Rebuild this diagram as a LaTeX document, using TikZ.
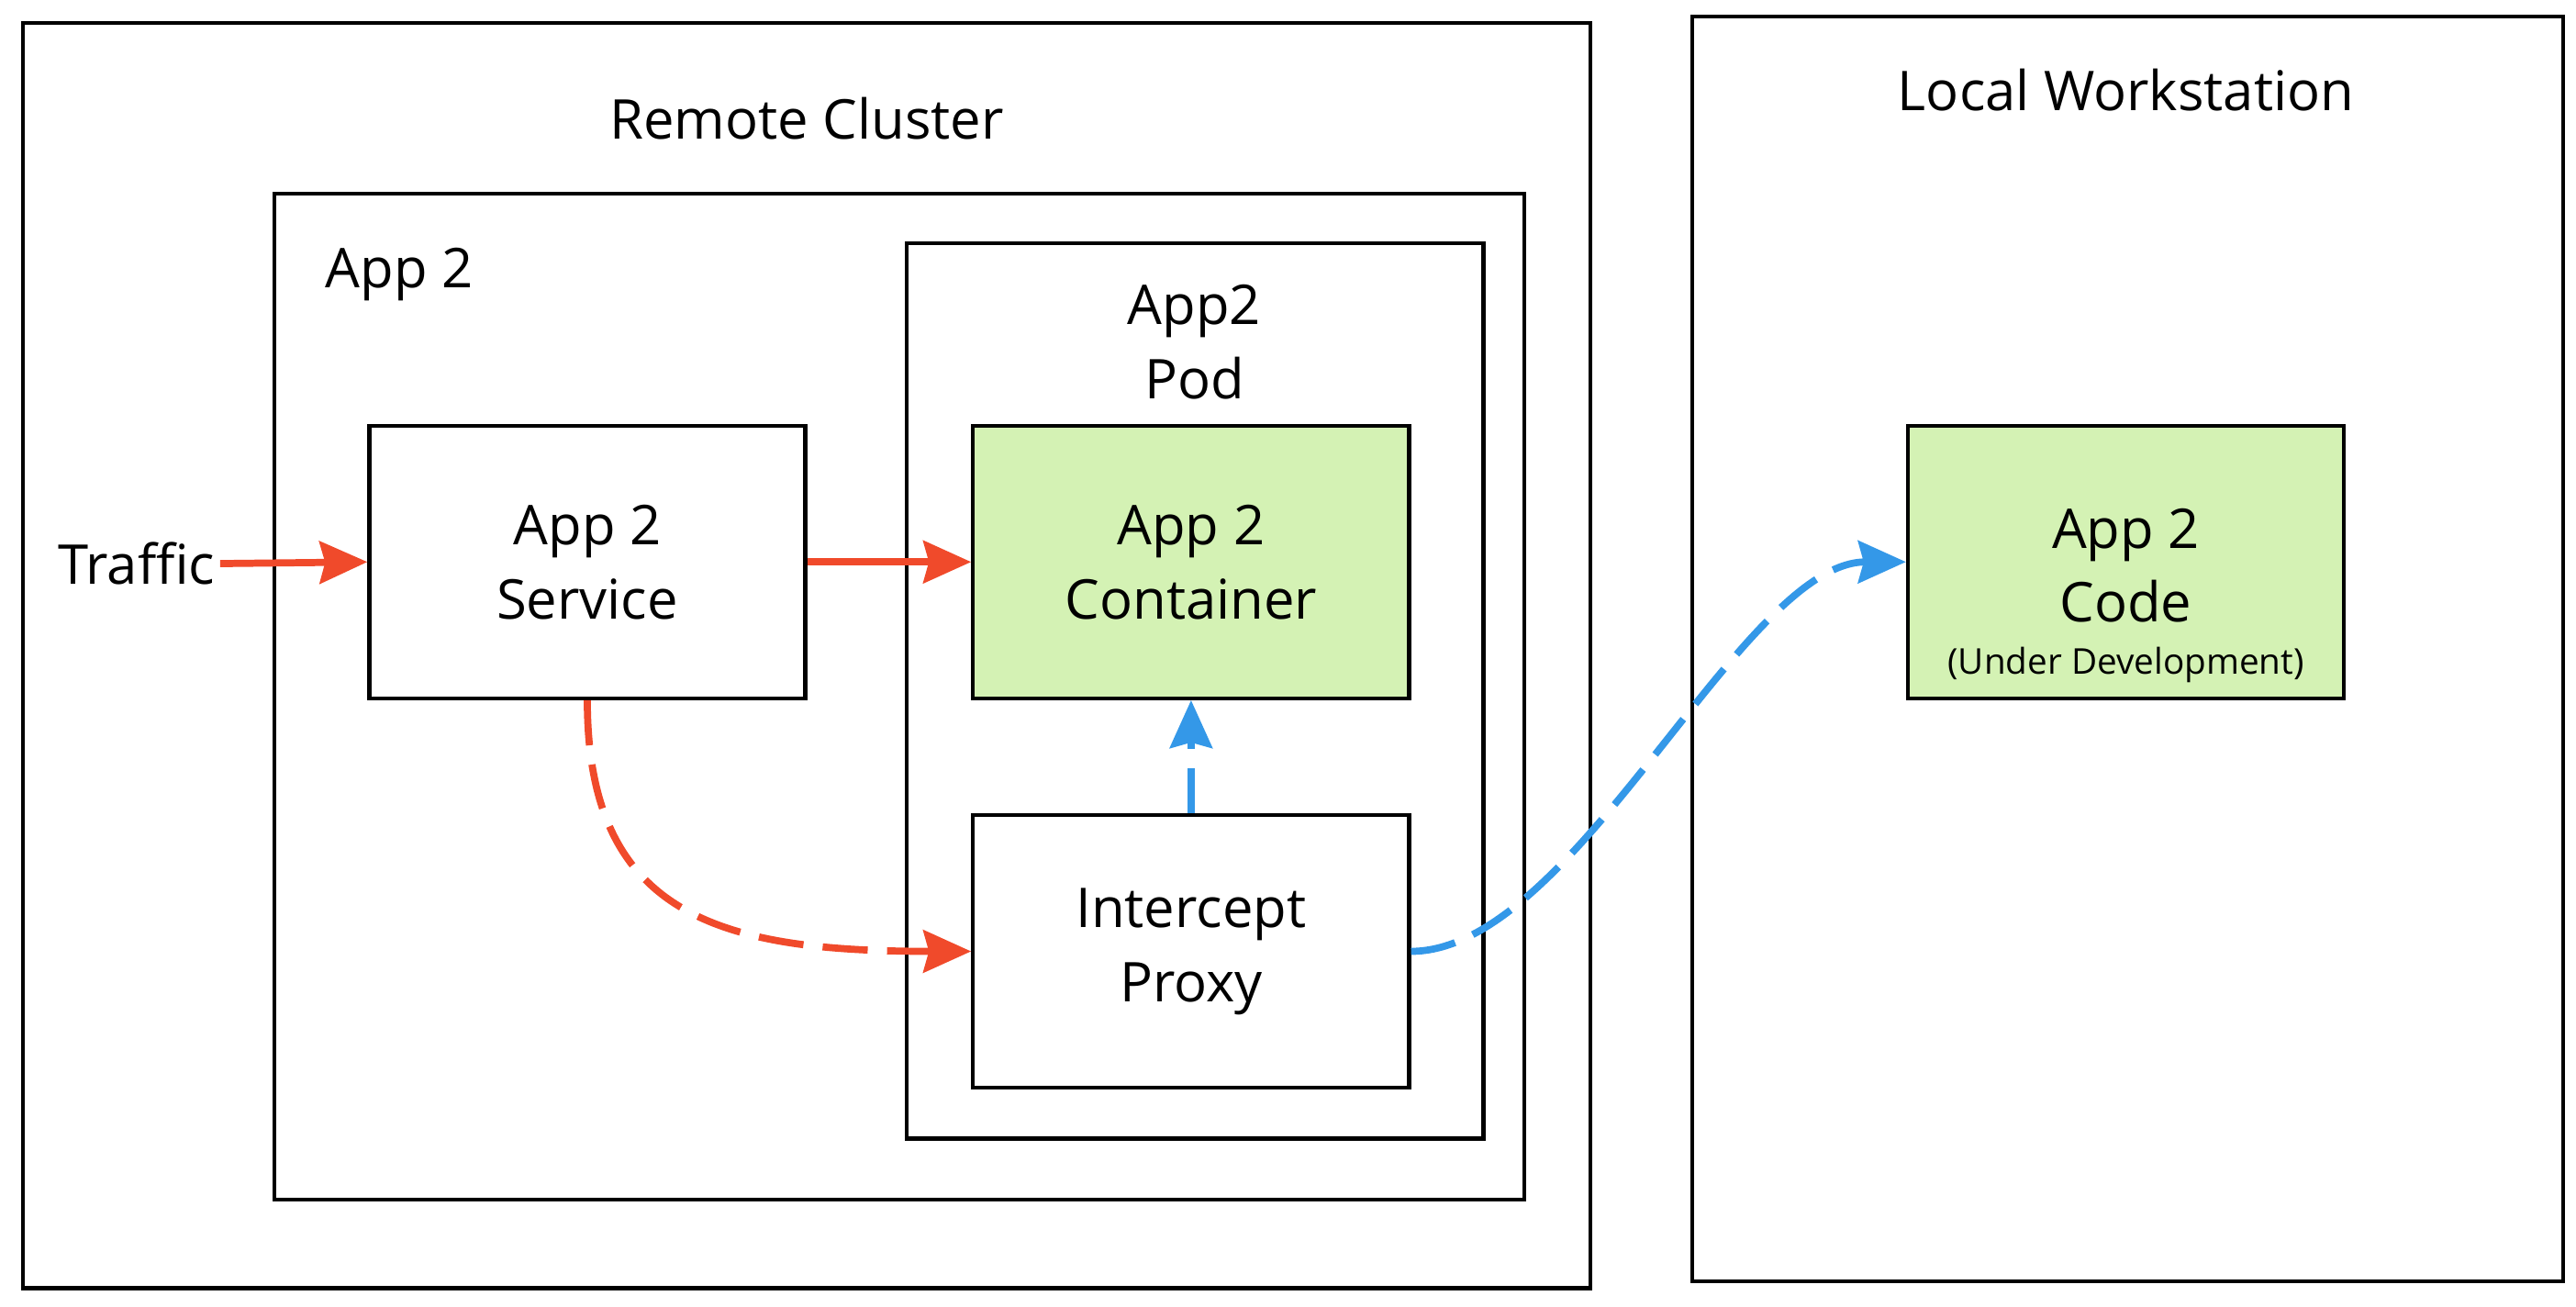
\documentclass[tikz,border=0pt]{standalone}
\usepackage{fontspec}
\setmainfont{Open Sans}
\usetikzlibrary{arrows.meta}
\definecolor{flowred}{HTML}{F04A2B}
\definecolor{flowblue}{HTML}{3498E8}
\definecolor{codegreen}{HTML}{D4F2B4}
\begin{document}
\begin{tikzpicture}[x=0.017902cm,y=-0.017902cm,line width=1.2pt,
  box/.style={draw,minimum width=4.75cm,minimum height=2.97cm,align=center,inner sep=0pt,font=\fontsize{17}{23}\selectfont},
  title/.style={font=\fontsize{17}{23}\selectfont,align=center,inner sep=0pt},
  flow/.style={line width=2.2pt,flowred,-{Stealth[length=5.2mm,width=4.6mm,inset=0.6mm]}},
  hop/.style={flow,dash pattern=on 14pt off 6pt}]
\useasboundingbox (0,0) rectangle (1568,795);
% containers
\draw (14,14) rectangle (968,784);
\draw (1030,10) rectangle (1560,780);
\draw (167,118) rectangle (928,730);
\draw (552,148) rectangle (903,693);
\node[title] (cluster) at (491,72) {Remote Cluster};
\node[title] (local) at (1294,55) {Local Workstation};
\node[title,anchor=west] (app) at (197,167) {App 2};
\node[title] (pod) at (727,208) {App2\\Pod};
% boxes
\node[box] (svc) at (357.5,342) {App 2\\Service};
\node[box,fill=codegreen] (cont) at (725,342) {App 2\\Container};
\node[box] (proxy) at (725,579) {Intercept\\Proxy};
\node[box,fill=codegreen] (code) at (1294,342) {\rule{0pt}{33pt}App 2\\Code\\[-7pt]{\fontsize{11}{13}\selectfont(Under Development)}};
\node[title,anchor=east,inner sep=1pt] (traffic) at (134,343) {Traffic};
% flows
\draw[flow](traffic.east)--(svc.west);
\draw[flow](svc)--(cont);
\draw[hop](svc.south)..controls +(0,132) and +(-152,0)..(proxy.west);
\draw[hop,flowblue](proxy.north)--(cont.south);
\draw[hop,flowblue](proxy.east)..controls +(100,0) and +(-100,0)..(code.west);
\end{tikzpicture}
\end{document}
